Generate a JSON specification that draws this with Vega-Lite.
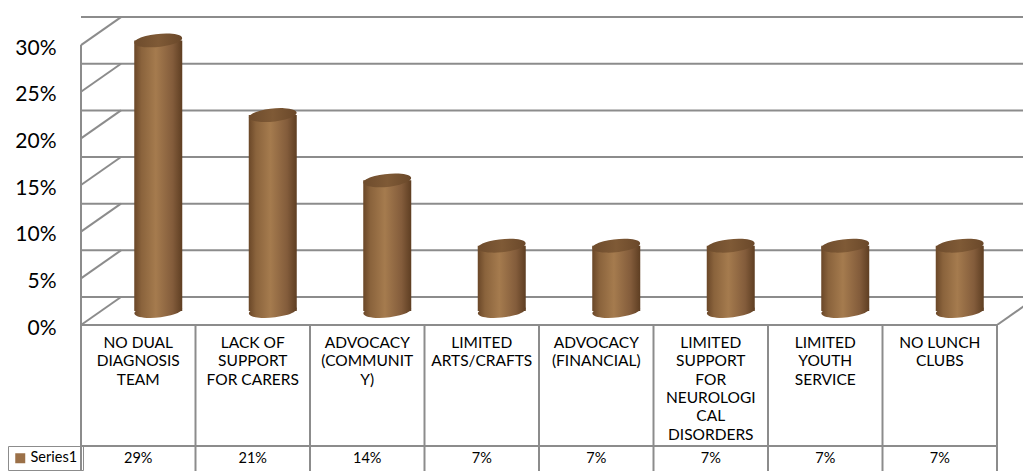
{
  "$schema": "https://vega.github.io/schema/vega-lite/v6.json",
  "padding": {"left": 7, "top": 0, "right": 0, "bottom": 0},
  "spacing": 0,
  "bounds": "flush",
  "background": "white",
  "config": {"view": {"stroke": null}, "font": "Lato"},
  "datasets": {
    "chart": [
      {"category": "NO DUAL\nDIAGNOSIS\nTEAM", "value": 0.29},
      {"category": "LACK OF\nSUPPORT\nFOR CARERS", "value": 0.21},
      {"category": "ADVOCACY\n(COMMUNIT\nY)", "value": 0.14},
      {"category": "LIMITED\nARTS/CRAFTS", "value": 0.07},
      {"category": "ADVOCACY\n(FINANCIAL)", "value": 0.07},
      {"category": "LIMITED\nSUPPORT\nFOR\nNEUROLOGI\nCAL\nDISORDERS", "value": 0.07},
      {"category": "LIMITED\nYOUTH\nSERVICE", "value": 0.07},
      {"category": "NO LUNCH\nCLUBS", "value": 0.07}
    ],
    "grid": [{"v": 0}, {"v": 0.05}, {"v": 0.1}, {"v": 0.15}, {"v": 0.2}, {"v": 0.25}, {"v": 0.3}]
  },
  "vconcat": [
    {
      "width": 943,
      "height": 325,
      "data": {"name": "chart"},
      "layer": [
        {
          "data": {"name": "grid"},
          "mark": {"type": "rule", "color": "#8c8c8c", "strokeWidth": 2, "xOffset": 40, "x2Offset": 40, "yOffset": -28, "y2Offset": -28, "clip": true},
          "encoding": {
            "y": {
              "field": "v", "type": "quantitative",
              "scale": {"domain": [0, 0.3483], "nice": false, "zero": false},
              "axis": {"values": [0, 0.05, 0.1, 0.15, 0.2, 0.25, 0.3], "format": ".0%", "title": null, "domain": false, "ticks": false, "grid": false, "labelFontSize": 21, "labelFont": "Lato", "labelColor": "#000000", "labelPadding": 25, "labelOffset": 3}
            }
          }
        },
        {
          "data": {"name": "grid"},
          "mark": {"type": "rule", "color": "#8c8c8c", "strokeWidth": 2, "y2Offset": -28},
          "encoding": {
            "x": {"value": 0},
            "x2": {"value": 40},
            "y": {"field": "v", "type": "quantitative"},
            "y2": {"field": "v"}
          }
        },
        {
          "data": {"name": "grid"},
          "transform": [{"aggregate": [{"op": "min", "field": "v", "as": "lo"}, {"op": "max", "field": "v", "as": "hi"}]}],
          "mark": {"type": "rule", "color": "#8c8c8c", "strokeWidth": 2},
          "encoding": {
            "x": {"value": 0},
            "y": {"field": "lo", "type": "quantitative"},
            "y2": {"field": "hi"}
          }
        },
        {
          "data": {"name": "grid"},
          "transform": [{"filter": "datum.v == 0"}],
          "mark": {"type": "rule", "color": "#8c8c8c", "strokeWidth": 2, "y2Offset": -28, "clip": true},
          "encoding": {
            "x": {"value": 916},
            "x2": {"value": 956},
            "y": {"field": "v", "type": "quantitative"},
            "y2": {"field": "v"}
          }
        },
        {
          "mark": {
            "type": "point", "filled": true, "opacity": 1, "strokeWidth": 0, "size": 2304, "xOffset": 20, "yOffset": -14,
            "shape": "M-0.9945,0.1045A1,0.27,-6,1,1,0.9945,-0.1045A1,0.27,-6,1,1,-0.9945,0.1045Z",
            "color": {"gradient": "linear", "x1": 0, "x2": 1, "y1": 0, "y2": 0, "stops": [
              {"offset": 0, "color": "#6a4728"}, {"offset": 0.15, "color": "#8a633c"}, {"offset": 0.45, "color": "#a57b4e"}, {"offset": 0.8, "color": "#835c3b"}, {"offset": 1, "color": "#5e3e22"}]}
          },
          "encoding": {
            "x": {"field": "category", "type": "nominal", "sort": null, "axis": null, "scale": {"range": [0, 916], "paddingInner": 0, "paddingOuter": 0}},
            "y": {"datum": 0, "type": "quantitative"}
          }
        },
        {
          "mark": {
            "type": "bar", "size": 48, "xOffset": 20, "yOffset": -14, "y2Offset": -14,
            "color": {"gradient": "linear", "x1": 0, "x2": 1, "y1": 0, "y2": 0, "stops": [
              {"offset": 0, "color": "#6a4728"}, {"offset": 0.15, "color": "#8a633c"}, {"offset": 0.45, "color": "#a57b4e"}, {"offset": 0.8, "color": "#835c3b"}, {"offset": 1, "color": "#5e3e22"}]}
          },
          "encoding": {
            "x": {"field": "category", "type": "nominal", "sort": null},
            "y": {"field": "value", "type": "quantitative"}
          }
        },
        {
          "mark": {
            "type": "point", "filled": true, "opacity": 1, "strokeWidth": 0, "size": 2304, "xOffset": 20, "yOffset": -14,
            "shape": "M-0.9945,0.1045A1,0.27,-6,1,1,0.9945,-0.1045A1,0.27,-6,1,1,-0.9945,0.1045Z",
            "color": {"gradient": "linear", "x1": 0, "x2": 1, "y1": 0, "y2": 0, "stops": [
              {"offset": 0, "color": "#6e4c2d"}, {"offset": 0.5, "color": "#7f5a36"}, {"offset": 1, "color": "#6a482a"}]}
          },
          "encoding": {
            "x": {"field": "category", "type": "nominal", "sort": null},
            "y": {"field": "value", "type": "quantitative"}
          }
        }
      ]
    },
    {
      "width": 916,
      "height": 121,
      "view": {"stroke": "#8c8c8c", "strokeWidth": 2},
      "data": {"name": "chart"},
      "layer": [
        {
          "mark": {"type": "rule", "color": "#8c8c8c", "strokeWidth": 2},
          "encoding": {
            "x": {"field": "category", "type": "nominal", "sort": null, "bandPosition": 0, "axis": null, "scale": {"paddingInner": 0, "paddingOuter": 0}}
          }
        },
        {
          "mark": {"type": "text", "baseline": "top", "align": "center", "lineBreak": "\n", "fontSize": 15.5, "lineHeight": 18.3, "font": "Lato", "color": "#000000", "yOffset": -49.5},
          "encoding": {
            "x": {"field": "category", "type": "nominal", "sort": null},
            "text": {"field": "category", "type": "nominal"}
          }
        }
      ]
    },
    {
      "width": 916,
      "height": 30,
      "view": {"stroke": "#8c8c8c", "strokeWidth": 2},
      "data": {"name": "chart"},
      "layer": [
        {
          "mark": {"type": "rule", "color": "#8c8c8c", "strokeWidth": 2},
          "encoding": {
            "x": {"field": "category", "type": "nominal", "sort": null, "bandPosition": 0, "axis": null, "scale": {"paddingInner": 0, "paddingOuter": 0}}
          }
        },
        {
          "mark": {"type": "text", "baseline": "middle", "align": "center", "fontSize": 14.5, "font": "Lato", "color": "#000000", "yOffset": -2},
          "encoding": {
            "x": {"field": "category", "type": "nominal", "sort": null},
            "text": {"field": "value", "type": "quantitative", "format": ".0%"}
          }
        },
        {
          "mark": {"type": "point", "filled": true, "size": 0},
          "encoding": {
            "x": {"field": "category", "type": "nominal", "sort": null},
            "color": {
              "datum": "Series1", "type": "nominal",
              "scale": {"range": ["#9b7048"]},
              "legend": {"orient": "none", "legendX": -73, "legendY": 446, "title": null, "symbolType": "square", "symbolSize": 100, "symbolStrokeWidth": 0, "symbolOpacity": 1, "labelFontSize": 14.5, "labelFont": "Lato", "labelColor": "#000000", "labelOffset": 3, "strokeColor": "#8c8c8c", "padding": 5}
            }
          }
        }
      ]
    }
  ]
}
